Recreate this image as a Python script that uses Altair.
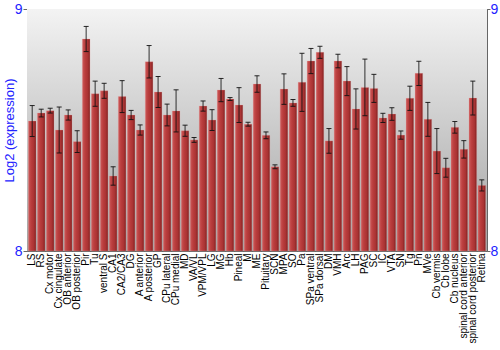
import altair as alt
import pandas as pd

regions = ["LS", "RS", "Cx motor", "Cx cingulate", "OB anterior", "OB posterior", "Pir", "Tu",
           "ventral S", "CA1", "CA2/CA3", "DG", "A anterior", "A posterior", "GP", "CPu lateral",
           "CPu medial", "MD", "VA/VL", "VPM/VPL", "LG", "MG", "Hb", "Pineal", "M", "ME",
           "Pituitary", "SCN", "MPA", "SO", "Pa", "SPa ventral", "SPa dorsal", "DM", "VMH", "Arc",
           "LH", "PAG", "SC", "IC", "VTA", "SN", "Tg", "Pn", "MVe", "Cb vermis", "Cb lobe",
           "Cb nucleus", "spinal cord anterior", "spinal cord posterior", "Retina"]

values = [8.537, 8.570, 8.580, 8.500, 8.562, 8.452, 8.876, 8.650,
          8.662, 8.310, 8.638, 8.562, 8.500, 8.782, 8.657, 8.562,
          8.579, 8.497, 8.459, 8.599, 8.541, 8.665, 8.628, 8.603, 8.524, 8.690,
          8.478, 8.348, 8.669, 8.612, 8.697, 8.785, 8.821, 8.455, 8.785, 8.702,
          8.587, 8.676, 8.672, 8.550, 8.566, 8.479, 8.631, 8.734, 8.544, 8.413, 8.344,
          8.511, 8.420, 8.632, 8.271]

errors = [0.064, 0.016, 0.010, 0.095, 0.021, 0.045, 0.052, 0.052,
          0.031, 0.038, 0.066, 0.019, 0.021, 0.067, 0.064, 0.045,
          0.087, 0.023, 0.010, 0.021, 0.043, 0.048, 0.006, 0.072, 0.008, 0.034,
          0.014, 0.008, 0.063, 0.014, 0.120, 0.052, 0.025, 0.051, 0.028, 0.060,
          0.083, 0.117, 0.058, 0.019, 0.026, 0.017, 0.050, 0.050, 0.070, 0.093, 0.039,
          0.024, 0.036, 0.070, 0.023]

df = pd.DataFrame({"region": regions, "value": values, "err": errors})
df["lo"] = df["value"] - df["err"]
df["hi"] = df["value"] + df["err"]

W, H = 460, 242
BLUE = "#2222ff"
FONT = "Liberation Sans"

yscale = alt.Scale(domain=[8, 9], nice=False, zero=False)
xenc = alt.X("region:N", sort=regions,
             scale=alt.Scale(paddingInner=0.15, paddingOuter=0.153),
             axis=alt.Axis(title=None, labelAngle=-90, labelAlign="right",
                           labelBaseline="middle", labelFontSize=10, labelFont=FONT,
                           labelColor="black", ticks=False, domain=False,
                           labelPadding=2, labelOverlap=False))

bg = alt.Chart(pd.DataFrame({"a": [0]})).mark_rect(
    fill=alt.Gradient(gradient="linear", x1=0, y1=0, x2=0, y2=1,
                      stops=[alt.GradientStop(offset=0, color="#f3f3f3"),
                             alt.GradientStop(offset=1, color="#a2a2a2")])
).encode(y=alt.Y(datum=9, type="quantitative", scale=yscale,
                 axis=alt.Axis(values=[8, 9], format="d", title="Log2 (expression)", grid=False,
                               labelColor=BLUE, labelFontSize=14, labelFont=FONT,
                               tickSize=4, tickColor="#666666", domainColor="#666666",
                               labelPadding=1, titleColor=BLUE, titleFontSize=13,
                               titleFont=FONT, titleFontWeight="normal",
                               titleX=-18, titleY=H / 2, titleAngle=-90,
                               titleAlign="center", titleBaseline="middle")),
         y2=alt.Y2(datum=8))

bars = alt.Chart(df).mark_bar(
    fill=alt.Gradient(gradient="linear", x1=0, y1=0, x2=1, y2=0,
                      stops=[alt.GradientStop(offset=0, color="#cc5a5a"),
                             alt.GradientStop(offset=0.35, color="#bb3e3e"),
                             alt.GradientStop(offset=0.75, color="#a83232"),
                             alt.GradientStop(offset=1, color="#7c1e1e")]),
    stroke="#e8a0a0", strokeOpacity=0.35, strokeWidth=0.8
).encode(x=xenc, y=alt.Y("value:Q", scale=yscale, axis=None), y2=alt.Y2(datum=8))

rules = alt.Chart(df).mark_rule(color="#111111", opacity=0.85, strokeWidth=1).encode(
    x=xenc,
    y=alt.Y("lo:Q", scale=yscale,
            axis=alt.Axis(orient="right", values=[8, 9], format="d", title=None, grid=False,
                          labelColor=BLUE, labelFontSize=14, labelFont=FONT,
                          tickSize=3, tickColor="#666666", domainColor="#666666",
                          labelPadding=0)),
    y2="hi:Q")

caps_lo = alt.Chart(df).mark_tick(color="#111111", size=5, thickness=1, opacity=0.9).encode(
    x=xenc, y=alt.Y("lo:Q", scale=yscale, axis=None))
caps_hi = alt.Chart(df).mark_tick(color="#111111", size=5, thickness=1, opacity=0.9).encode(
    x=xenc, y=alt.Y("hi:Q", scale=yscale, axis=None))

chart = alt.layer(bg, bars, rules, caps_lo, caps_hi).resolve_axis(y="independent").properties(
    width=W, height=H,
    autosize=alt.AutoSizeParams(type="none"),
    padding={"left": 27, "top": 9, "right": 13, "bottom": 99},
    background="white"
).configure_view(stroke="#666666", strokeWidth=1)

chart.save("out.html", embed_options={"renderer": "svg", "actions": False})
